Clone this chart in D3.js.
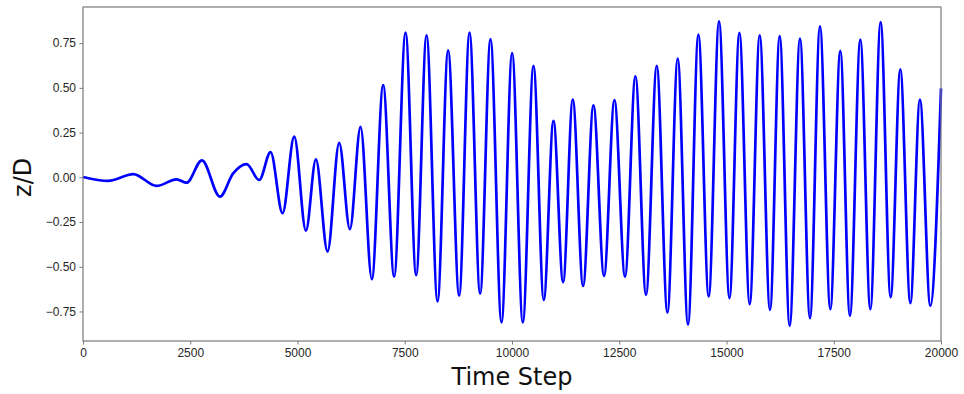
<!DOCTYPE html>
<html>
<head>
<meta charset="utf-8">
<script src="https://cdn.jsdelivr.net/npm/d3@7"></script>
<style>
  body { margin: 0; background: #fff; }
  svg { display: block; font-family: "DejaVu Sans", sans-serif; }
</style>
</head>
<body>
<svg></svg>
<script>
var width = 964,
    height = 394;
var margin = {top: 7, right: 23, bottom: 53, left: 83};

// turning points of the z/D signal
var steps = [0, 590, 1173, 1716, 2182, 2415, 2773, 3192, 3500, 3814, 4108, 4373, 4652, 4924,
  5196, 5429, 5700, 5972, 6221, 6470, 6733, 6997, 7253, 7519, 7766, 8008, 8264, 8511,
  8768, 9010, 9257, 9499, 9755, 10003, 10252, 10501, 10741, 10967, 11191, 11417, 11657,
  11899, 12146, 12388, 12635, 12877, 13124, 13374, 13623, 13863, 14103, 14345, 14585,
  14826, 15069, 15301, 15541, 15774, 16014, 16240, 16473, 16713, 16946, 17179, 17420,
  17653, 17877, 18120, 18353, 18593, 18826, 19052, 19285, 19509, 19751, 20000];
var zD = [0.002, -0.02, 0.018, -0.048, -0.011, -0.03, 0.095, -0.108, 0.022, 0.074, -0.015, 0.141, -0.201, 0.227,
  -0.298, 0.100, -0.415, 0.193, -0.290, 0.282, -0.569, 0.515, -0.555, 0.809, -0.547, 0.794, -0.694, 0.710,
  -0.662, 0.809, -0.651, 0.772, -0.811, 0.695, -0.811, 0.623, -0.685, 0.316, -0.586, 0.435, -0.607,
  0.402, -0.551, 0.431, -0.555, 0.565, -0.657, 0.623, -0.756, 0.664, -0.824, 0.798, -0.666,
  0.872, -0.675, 0.807, -0.709, 0.794, -0.741, 0.789, -0.830, 0.776, -0.787, 0.844, -0.737,
  0.707, -0.774, 0.770, -0.737, 0.868, -0.670, 0.604, -0.703, 0.435, -0.718, 0.497];

var xTicks = [0, 2500, 5000, 7500, 10000, 12500, 15000, 17500, 20000];
var yTicks = [-0.75, -0.50, -0.25, 0.00, 0.25, 0.50, 0.75];

var svg = d3.select("svg")
  .attr("width", width)
  .attr("height", height);

var x = d3.scaleLinear()
  .domain([0, 20000])
  .range([margin.left, width - margin.right]);
var y = d3.scaleLinear()
  .domain([-0.915, 0.952])
  .range([height - margin.bottom, margin.top]);

var data = steps.map(function(s, i) { return [s, zD[i]]; });

var line = d3.line()
  .x(function(d) { return x(d[0]); })
  .y(function(d) { return y(d[1]); })
  .curve(d3.curveMonotoneX);

svg.append("path")
  .datum(data)
  .attr("d", line)
  .attr("fill", "none")
  .attr("stroke", "#0000ff")
  .attr("stroke-width", 2.7)
  .attr("stroke-linejoin", "round");

var xAxis = svg.append("g")
  .attr("transform", "translate(0," + (height - margin.bottom) + ")")
  .call(d3.axisBottom(x).tickValues(xTicks).tickSizeInner(3.5).tickSizeOuter(0).tickPadding(3.5)
    .tickFormat(d3.format("d")));
var yAxis = svg.append("g")
  .attr("transform", "translate(" + margin.left + ",0)")
  .call(d3.axisLeft(y).tickValues(yTicks).tickSizeInner(3.5).tickSizeOuter(0).tickPadding(3.5)
    .tickFormat(function(d) { return d3.format(".2f")(d).replace("-", "\u2212"); }));

[xAxis, yAxis].forEach(function(g) {
  g.select(".domain").remove();
  g.selectAll("line").attr("stroke", "#7a7a7a").attr("stroke-width", 1);
  g.selectAll("text").attr("fill", "#262626").style("font-size", "12px");
});

// frame
svg.append("rect")
  .attr("x", margin.left)
  .attr("y", margin.top)
  .attr("width", width - margin.left - margin.right)
  .attr("height", height - margin.top - margin.bottom)
  .attr("fill", "none")
  .attr("stroke", "#7a7a7a")
  .attr("stroke-width", 1.2);

svg.append("text")
  .attr("x", (margin.left + width - margin.right) / 2)
  .attr("y", 385)
  .attr("text-anchor", "middle")
  .style("font-size", "24px")
  .attr("fill", "#111")
  .text("Time Step");

svg.append("text")
  .attr("transform", "translate(31," + y(0) + ") rotate(-90)")
  .attr("text-anchor", "middle")
  .style("font-size", "24px")
  .attr("fill", "#111")
  .text("z/D");
</script>
</body>
</html>
